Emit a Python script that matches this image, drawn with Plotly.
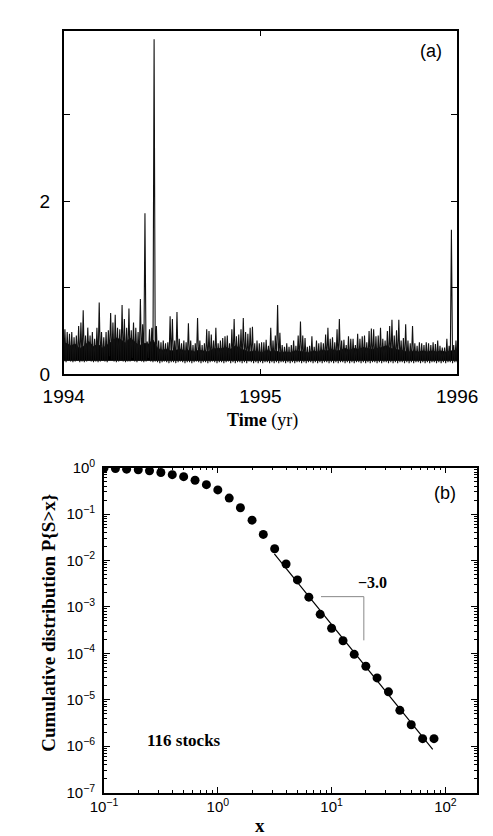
import numpy as np
import plotly.graph_objects as go

# (a) time series: upper envelope (spike tops) and floor, read every ~2.5 px
ts_high = [
    0.52, 0.49, 0.47, 0.49, 0.43, 0.45, 0.56, 0.60, 0.74, 0.45,
    0.54, 0.45, 0.49, 0.41, 0.54, 0.83, 0.49, 0.43, 0.49, 0.51,
    0.71, 0.60, 0.69, 0.54, 0.52, 0.80, 0.64, 0.54, 0.76, 0.51,
    0.60, 0.54, 0.49, 0.87,
    0.58, 1.86, 0.38, 0.52, 0.54, 3.87, 0.56, 0.39, 0.37, 0.39,
    0.36, 0.37, 0.67, 0.64, 0.39, 0.72, 0.41, 0.36, 0.39, 0.37,
    0.59, 0.39, 0.34, 0.36, 0.65, 0.39, 0.34, 0.36, 0.52, 0.50,
    0.46, 0.39, 0.54, 0.36, 0.39,
    0.42, 0.44, 0.45, 0.36, 0.52, 0.64, 0.44, 0.46, 0.52, 0.65,
    0.49, 0.47, 0.54, 0.55, 0.36, 0.39, 0.36, 0.37, 0.37, 0.40,
    0.33, 0.54, 0.39, 0.45, 0.80, 0.48, 0.34, 0.32, 0.36, 0.32,
    0.34, 0.39, 0.33, 0.45,
    0.61, 0.45, 0.42, 0.32, 0.33, 0.44, 0.32, 0.39, 0.36, 0.37,
    0.36, 0.46, 0.54, 0.41, 0.43, 0.37, 0.52, 0.64, 0.39, 0.40,
    0.34, 0.44, 0.41, 0.41, 0.34, 0.47, 0.41, 0.44, 0.45, 0.37,
    0.50, 0.53, 0.52, 0.44, 0.45,
    0.54, 0.41, 0.39, 0.50, 0.56, 0.63, 0.45, 0.51, 0.63, 0.39,
    0.42, 0.58, 0.39, 0.36, 0.56, 0.36, 0.33, 0.37, 0.36, 0.34,
    0.37, 0.36, 0.34, 0.37, 0.35, 0.39, 0.33, 0.31, 0.31, 0.41,
    0.33, 1.67, 0.34, 0.39,
]
ts_low = [
    0.15, 0.14, 0.16, 0.15, 0.14, 0.15, 0.16, 0.14, 0.15, 0.14,
    0.15, 0.16, 0.15, 0.14, 0.15, 0.14, 0.15, 0.16, 0.15, 0.14,
    0.21, 0.17, 0.15, 0.14, 0.15, 0.16, 0.15, 0.14, 0.15, 0.15,
    0.19, 0.15, 0.14, 0.16,
    0.15, 0.14, 0.15, 0.19, 0.15, 0.14, 0.15, 0.14, 0.13, 0.14,
    0.15, 0.14, 0.13, 0.14, 0.14, 0.13, 0.14, 0.15, 0.14, 0.13,
    0.14, 0.14, 0.13, 0.14, 0.15, 0.14, 0.13, 0.14, 0.14, 0.13,
    0.14, 0.15, 0.14, 0.13, 0.14,
    0.14, 0.13, 0.14, 0.15, 0.13, 0.14, 0.13, 0.14, 0.14, 0.13,
    0.14, 0.13, 0.15, 0.14, 0.13, 0.14, 0.13, 0.14, 0.13, 0.14,
    0.14, 0.13, 0.14, 0.13, 0.14, 0.13, 0.14, 0.14, 0.13, 0.14,
    0.13, 0.14, 0.13, 0.14,
    0.14, 0.13, 0.14, 0.13, 0.14, 0.14, 0.13, 0.14, 0.13, 0.14,
    0.13, 0.14, 0.14, 0.13, 0.14, 0.13, 0.14, 0.13, 0.14, 0.14,
    0.13, 0.14, 0.13, 0.14, 0.13, 0.14, 0.14, 0.13, 0.14, 0.13,
    0.14, 0.13, 0.14, 0.14, 0.13,
    0.14, 0.13, 0.14, 0.14, 0.13, 0.14, 0.13, 0.14, 0.13, 0.14,
    0.14, 0.13, 0.14, 0.13, 0.14, 0.13, 0.14, 0.14, 0.13, 0.14,
    0.13, 0.14, 0.13, 0.14, 0.14, 0.13, 0.14, 0.13, 0.14, 0.13,
    0.14, 0.14, 0.13, 0.14,
]
# top of the solid black band, read every ~5 px
band_top = [
    0.36, 0.33, 0.35, 0.30, 0.33, 0.38, 0.32, 0.35, 0.30, 0.34,
    0.38, 0.42, 0.40, 0.36, 0.42, 0.38, 0.33,
    0.36, 0.35, 0.40, 0.30, 0.28, 0.29, 0.27, 0.28, 0.29, 0.27,
    0.28, 0.26, 0.28, 0.27, 0.26, 0.29, 0.30,
    0.30, 0.31, 0.29, 0.33, 0.30, 0.28, 0.26, 0.27, 0.26, 0.25,
    0.28, 0.26, 0.27, 0.25, 0.26, 0.25, 0.27,
    0.27, 0.26, 0.25, 0.27, 0.26, 0.28, 0.27, 0.29, 0.27, 0.28,
    0.30, 0.28, 0.30, 0.29, 0.31, 0.30, 0.29,
    0.30, 0.31, 0.33, 0.30, 0.29, 0.28, 0.27, 0.26, 0.27, 0.26,
    0.27, 0.26, 0.27, 0.26, 0.27, 0.26, 0.27, 0.28,
]
band_floor = 0.16
year_start, year_end = 1994, 1996

# (b) cumulative distribution
x_pts = [0.1, 0.126, 0.158, 0.2, 0.251, 0.316, 0.398, 0.501, 0.631, 0.794,
         1.0, 1.26, 1.58, 2.0, 2.51, 3.16, 3.98, 5.01, 6.31, 7.94,
         10.0, 12.6, 15.8, 20.0, 25.1, 31.6, 39.8, 50.1, 63.1, 79.4]
p_pts = [0.98, 0.955, 0.925, 0.895, 0.853, 0.785, 0.703, 0.638, 0.533, 0.428,
         0.33, 0.22, 0.136, 0.0736, 0.0364, 0.0179, 0.00838, 0.00381, 0.00162, 6.9e-4,
         3.47e-4, 1.86e-4, 9.5e-5, 5.25e-5, 2.95e-5, 1.48e-5, 5.9e-6, 2.9e-6, 1.45e-6, 1.45e-6]
fit_x = [3.14, 77.4]
fit_y = [0.0138, 8.5e-7]
tri_x = [8.07, 19.2, 19.2]
tri_y = [1.66e-3, 1.66e-3, 1.9e-4]

span = year_end - year_start
n = len(ts_high)
xs, ys = [], []
for i in range(n):
    xs.append(year_start + span * i / n)
    ys.append(ts_low[i])
    xs.append(year_start + span * (i + 0.5) / n)
    ys.append(ts_high[i])
xs.append(year_end)
ys.append(ts_low[-1])

m = len(band_top)
bx = [year_start + span * (j + 0.5) / m for j in range(m)]
bx = [year_start] + bx + [year_end, year_end, year_start]
by = [band_top[0]] + band_top + [band_top[-1], band_floor, band_floor]

W, H = 493, 836
fig = go.Figure()

fig.add_trace(go.Scatter(x=bx, y=by, mode="lines", fill="toself", fillcolor="black",
                         line=dict(color="black", width=0.8),
                         xaxis="x", yaxis="y", showlegend=False))
fig.add_trace(go.Scatter(x=xs, y=ys, mode="lines", line=dict(color="#111", width=1.1),
                         xaxis="x", yaxis="y", showlegend=False))

fig.add_trace(go.Scatter(x=fit_x, y=fit_y, mode="lines", line=dict(color="black", width=1.2),
                         xaxis="x2", yaxis="y2", showlegend=False))
fig.add_trace(go.Scatter(x=tri_x, y=tri_y, mode="lines", line=dict(color="#888", width=1),
                         xaxis="x2", yaxis="y2", showlegend=False))
fig.add_trace(go.Scatter(x=x_pts, y=p_pts, mode="markers",
                         marker=dict(color="black", size=9, line=dict(width=0)),
                         xaxis="x2", yaxis="y2", showlegend=False))

sans = "Liberation Sans, Arial, sans-serif"
serif = "Liberation Serif, Times New Roman, serif"
ax = dict(showline=True, linecolor="black", linewidth=1.6, ticks="inside", tickcolor="black",
          showgrid=False, zeroline=False, tickfont=dict(family=sans, color="black"))

sup = lambda k: "10<sup>%s</sup>" % (str(k).replace("-", "−"))

fig.update_layout(
    width=W, height=H, margin=dict(l=0, r=0, t=0, b=0),
    paper_bgcolor="white", plot_bgcolor="white",
    xaxis=dict(ax, domain=[38 / W, 468 / W], range=[year_start, year_end],
               tickvals=[1994, 1995, 1996], ticklen=6, mirror="ticks", ticklabelstandoff=4,
               tickfont=dict(family=sans, size=19, color="black"), anchor="y"),
    yaxis=dict(ax, domain=[1 - 365 / H, 1 - 12 / H], range=[0, 3.97],
               tickvals=[0, 1, 2, 3], ticktext=["0", "", "2", ""], ticklen=6, mirror="ticks",
               ticklabelstandoff=8, tickfont=dict(family=sans, size=19, color="black"), anchor="x"),
    xaxis2=dict(ax, type="log", domain=[82 / W, 490 / W], range=[-1, 2.28],
                tickvals=[0.1, 1, 10, 100], ticktext=[sup(-1), sup(0), sup(1), sup(2)],
                ticklen=6, mirror="allticks",
                minor=dict(ticks="inside", ticklen=3, tickcolor="black", dtick="D1", showgrid=False),
                tickfont=dict(family=sans, size=15, color="black"), anchor="y2"),
    yaxis2=dict(ax, type="log", domain=[1 - 794.5 / H, 1 - 460.7 / H], range=[-7, 0],
                tickvals=[10.0 ** k for k in range(-7, 1)], ticktext=[sup(k) for k in range(-7, 1)],
                ticklen=6, mirror="allticks", ticklabelstandoff=4,
                minor=dict(ticks="inside", ticklen=3, tickcolor="black", dtick="D1", showgrid=False),
                tickfont=dict(family=sans, size=15, color="black"), anchor="x2"),
)

annots = [
    dict(text="(a)", x=439 / W, y=1 - 33 / H, font=dict(family=sans, size=18)),
    dict(text="(b)", x=455 / W, y=1 - 487 / H, font=dict(family=sans, size=18)),
    dict(text="<b>Time</b> (yr)", x=255 / W, y=1 - 412 / H, font=dict(family=serif, size=18)),
    dict(text="<b>x</b>", x=253 / W, y=1 - 828 / H, font=dict(family=serif, size=19)),
    dict(text="<b>Cumulative distribution P{S>x}</b>", x=22 / W, y=1 - 620 / H,
         textangle=-90, font=dict(family=serif, size=19)),
    dict(text="<b>116 stocks</b>", x=169 / W, y=1 - 741 / H, font=dict(family=serif, size=17)),
    dict(text="<b>−3.0</b>", x=375 / W, y=1 - 579 / H, font=dict(family=serif, size=16)),
]
for a in annots:
    a["font"]["color"] = "black"
    fig.add_annotation(xref="paper", yref="paper", showarrow=False,
                       xanchor="center", yanchor="middle", **a)

fig.write_html("out.html")
